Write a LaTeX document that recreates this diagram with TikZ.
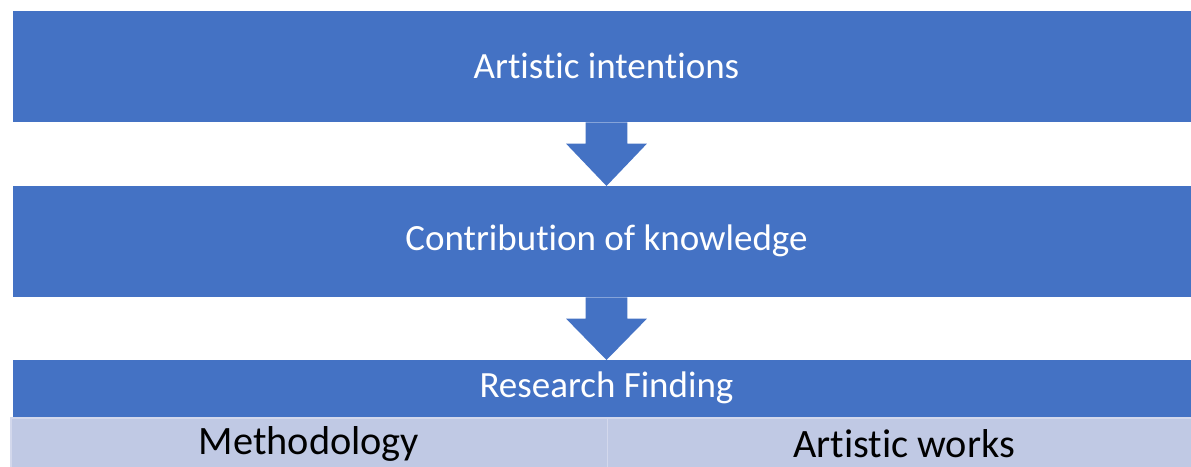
\documentclass[tikz,border=0pt]{standalone}
\usepackage{fontspec}
\setmainfont[RawFeature={-liga;-clig;-calt;-dlig;-rlig}]{Carlito}
\usetikzlibrary{calc}
\newcommand{\nolig}{\kern0pt }
\definecolor{mainblue}{HTML}{4472C4}
\definecolor{lightcell}{HTML}{C0C9E4}
\definecolor{cellborder}{HTML}{D3D8EC}
\tikzset{
  bluebox/.style={fill=mainblue, draw=none, inner sep=0pt, text=white, anchor=north west},
  cellbox/.style={fill=lightcell, draw=cellborder, line width=1.5pt, inner sep=0pt, text=black, anchor=north west},
  blockarrow/.style={fill=mainblue, draw=none},
  bigtext/.style={font=\fontsize{37}{44}\selectfont},
  celltext/.style={font=\fontsize{40.3}{48}\selectfont}
}
\begin{document}
\begin{tikzpicture}[x=1pt,y=-1pt]
\useasboundingbox (0,0) rectangle (1191,466);
\clip (0,0) rectangle (1191,466);
\node[bluebox, minimum width=1178pt, minimum height=111pt] (b1) at (13,11) {};
\node[bigtext, text=white] (t1) at (606.5,65.5) {Artist\nolig ic intent\nolig ions};
\node[bluebox, minimum width=1178pt, minimum height=111pt] (b2) at (13,186) {};
\node[bigtext, text=white] (t2) at (606.5,240.5) {Contribut\nolig ion of knowledge};
\node[bluebox, minimum width=1178pt, minimum height=57pt] (b3) at (13,360) {};
\node[bigtext, text=white] (t3) at (606.5,388) {Research Finding};
\node[cellbox, minimum width=596.5pt, minimum height=55pt] (c1) at (10,417) {};
\node[cellbox, minimum width=594pt, minimum height=55pt] (c2) at (606.5,417) {};
\node[celltext] (m) at (309,444) {Methodology};
\node[celltext] (a) at (904,444) {Artist\nolig ic works};
\coordinate (ax) at (606.5,0);
\fill[blockarrow] ($(b1.south -| ax)+(-20.8,0)$) -- ++(0,21.3) -- ++(-19.6,0) -- (b2.north -| ax)
  -- ($(b1.south -| ax)+(40.4,21.3)$) -- ++(-19.6,0) -- ($(b1.south -| ax)+(20.8,0)$) -- cycle;
\fill[blockarrow] ($(b2.south -| ax)+(-20.8,0)$) -- ++(0,21.3) -- ++(-19.6,0) -- (b3.north -| ax)
  -- ($(b2.south -| ax)+(40.4,21.3)$) -- ++(-19.6,0) -- ($(b2.south -| ax)+(20.8,0)$) -- cycle;
\end{tikzpicture}
\end{document}
